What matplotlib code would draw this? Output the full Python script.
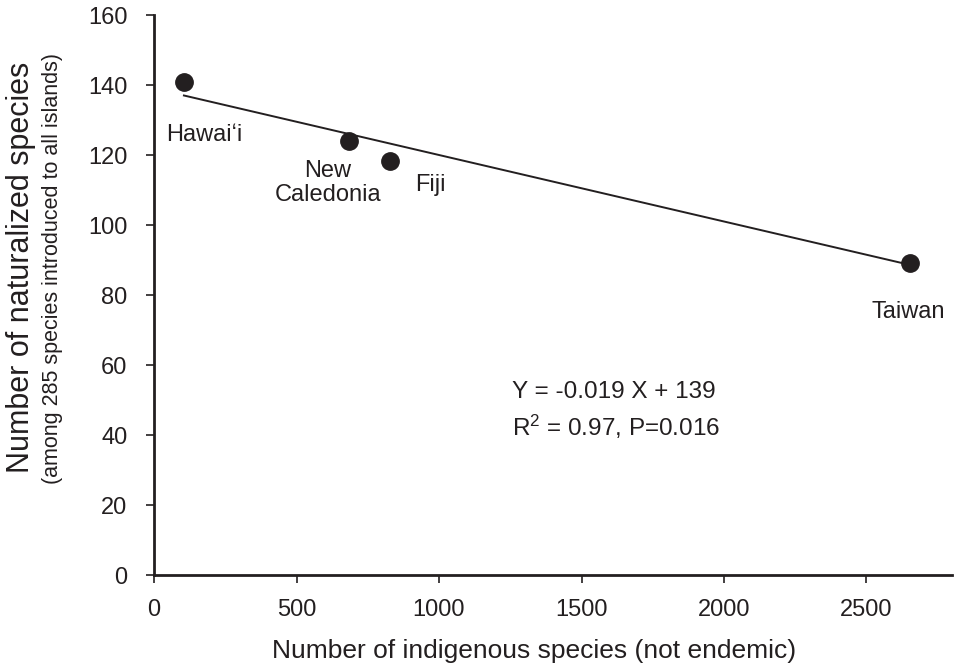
import numpy as np
import matplotlib
matplotlib.use('Agg')
import matplotlib.pyplot as plt

plt.rcParams['font.family'] = ['Liberation Sans', 'DejaVu Sans']
plt.rcParams['mathtext.fontset'] = 'custom'
plt.rcParams['mathtext.rm'] = 'Liberation Sans'
plt.rcParams['mathtext.it'] = 'Liberation Sans'

# data
islands = ['Hawaiʻi', 'New\nCaledonia', 'Fiji', 'Taiwan']
indigenous = [105, 684, 828, 2654]
naturalized = [141, 124, 118.3, 89.2]
# where each label sits (data coords)
label_x = [178, 610, 969, 2646]
label_y = [125.7, 112, 111.4, 75]

slope = -0.019
intercept = 139
x_ticks = [0, 500, 1000, 1500, 2000, 2500]
y_ticks = [0, 20, 40, 60, 80, 100, 120, 140, 160]

ink = '#231f20'

fig = plt.figure(figsize=(9.56, 6.67), dpi=100)
ax = fig.add_axes([154 / 956, 92 / 667, 798 / 956, 560 / 667])

# regression line over the range of the data
xs = np.array([min(indigenous), max(indigenous)])
ax.plot(xs, slope * xs + intercept, color=ink, linewidth=1.4, zorder=2)
ax.plot(indigenous, naturalized, 'o', color=ink, markersize=12.5, zorder=3)

for name, lx, ly in zip(islands, label_x, label_y):
    ax.text(lx, ly, name, ha='center', va='center', fontsize=17, color=ink,
            multialignment='center', linespacing=1.15)

ax.text(1256, 52.3, 'Y = -0.019 X + 139', fontsize=17.5, color=ink, va='center')
ax.text(1256, 42.3, r'R$^2$ = 0.97, P=0.016', fontsize=17.5, color=ink, va='center')

ax.set_xlim(0, 2800)
ax.set_ylim(0, 160)
ax.set_xticks(x_ticks)
ax.set_yticks(y_ticks)
ax.tick_params(axis='both', direction='out', length=6, width=1.2, colors=ink,
               labelsize=17)
ax.tick_params(axis='x', pad=11)
ax.tick_params(axis='y', pad=13)
for side in ['top', 'right']:
    ax.spines[side].set_visible(False)
for side in ['left', 'bottom']:
    ax.spines[side].set_linewidth(2)
    ax.spines[side].set_color(ink)

fig.text(272 / 956, 1 - 651 / 667, 'Number of indigenous species (not endemic)',
         ha='left', va='center', fontsize=19, color=ink)
fig.text(21 / 956, 1 - 267 / 667, 'Number of naturalized species', rotation=90,
         ha='center', va='center', fontsize=22, color=ink)
fig.text(53 / 956, 1 - 268 / 667, '(among 285 species introduced to all islands)',
         rotation=90, ha='center', va='center', fontsize=15.5, color=ink)

fig.savefig('out.png', dpi=100)
